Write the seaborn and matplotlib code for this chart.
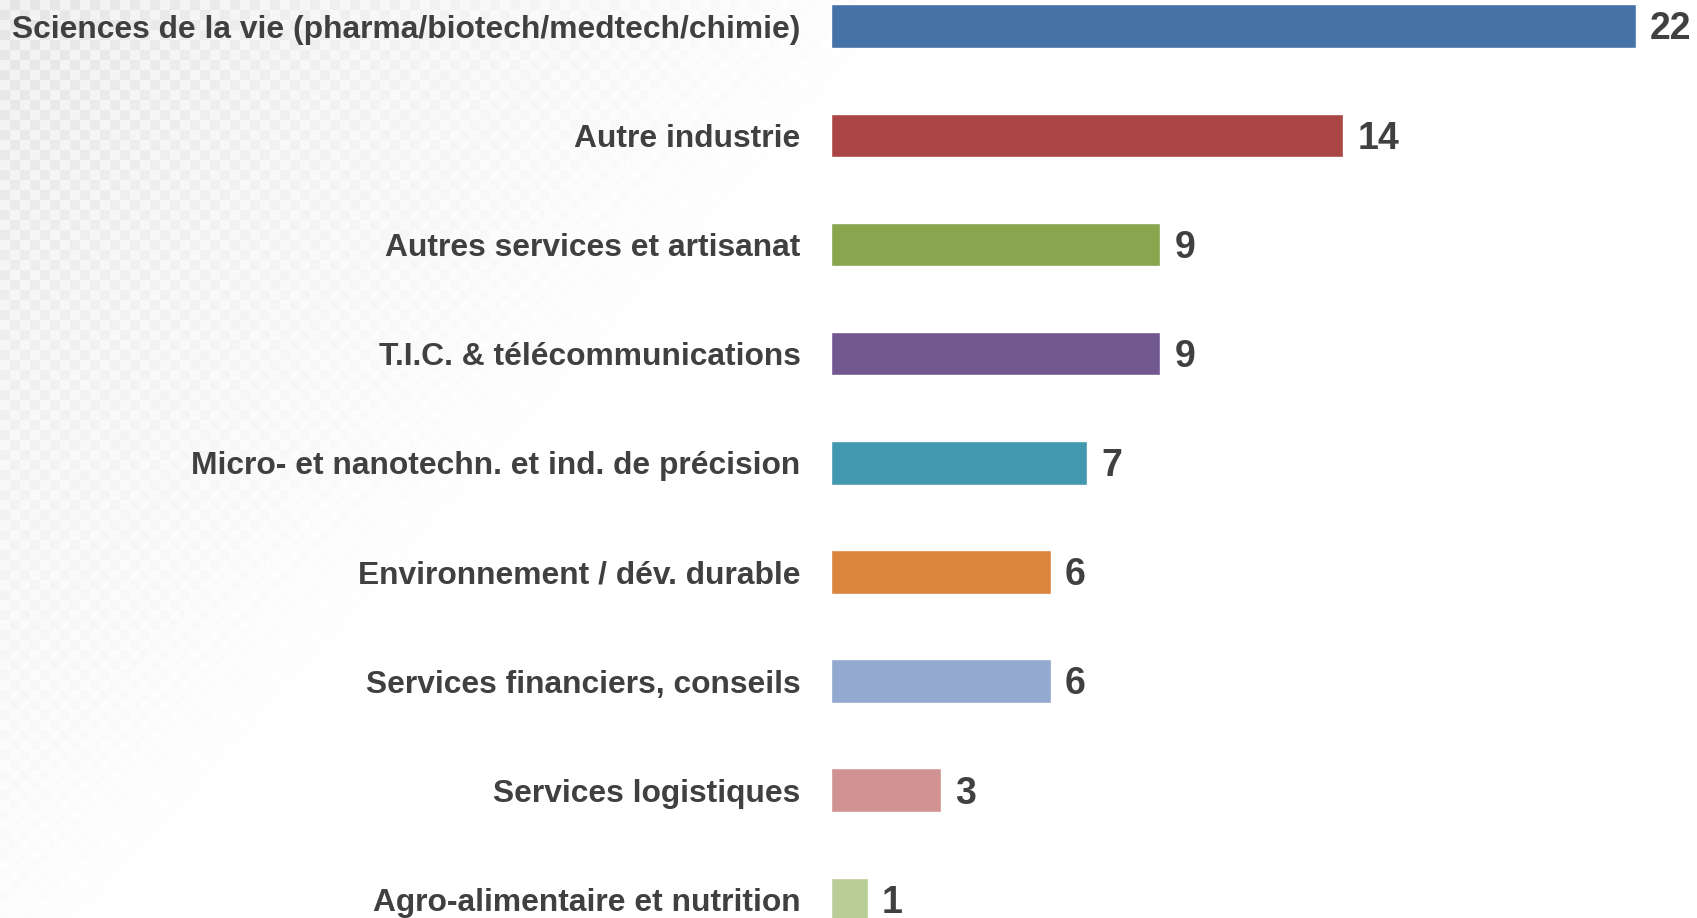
import numpy as np
import pandas as pd
import matplotlib
matplotlib.use("Agg")
import matplotlib.pyplot as plt
import seaborn as sns

categories = [
    "Sciences de la vie (pharma/biotech/medtech/chimie)",
    "Autre industrie",
    "Autres services et artisanat",
    "T.I.C. & télécommunications",
    "Micro- et nanotechn. et ind. de précision",
    "Environnement / dév. durable",
    "Services financiers, conseils",
    "Services logistiques",
    "Agro-alimentaire et nutrition",
]
values = [22, 14, 9, 9, 7, 6, 6, 3, 1]
colors = ["#4572A7", "#AA4643", "#89A54E", "#71588F", "#4198AF",
          "#DB843D", "#93A9CF", "#D19392", "#B9CD96"]

sns.set_theme(style="white")
plt.rcParams['font.family'] = ['Liberation Sans', 'DejaVu Sans']

W, H = 1697, 918
fig = plt.figure(figsize=(W / 100, H / 100), dpi=100)
fig.patch.set_facecolor("white")

# decorative checkered background fading toward the right
bg = fig.add_axes([0, 0, 1, 1], zorder=0)
yy, xx = np.mgrid[0:H, 0:W]
cell = 10
checker = ((xx // cell + yy // cell) % 2).astype(float)
fade = np.clip(1.0 - (xx + 0.9 * yy) / 950.0, 0, 1) ** 1.1
shade = 1.0 - (0.05 + 0.05 * checker) * fade
img = np.dstack([shade, shade, shade])
bg.imshow(img, aspect="auto", extent=[0, W, H, 0], interpolation="nearest")
bg.set_axis_off()

left = 831 / W
ax = fig.add_axes([left, 0, 1 - left, 1], zorder=1)
ax.patch.set_alpha(0)

df = pd.DataFrame({"cat": categories, "val": values})
sns.barplot(data=df, y="cat", x="val", hue="cat", palette=colors,
            legend=False, orient="h", width=0.4, saturation=1, ax=ax)

unit_px = 36.6
ax.set_xlim(0, (W - 831) / unit_px)
ax.set_ylim(8.17, -0.24)

for i, v in enumerate(values):
    ax.text(v + 14 / unit_px, i + 0.03, f"{v}", va="center", ha="left",
            fontsize=27, fontweight="bold", color="#404040")

ax.set_xlabel("")
ax.set_ylabel("")
ax.set_xticks([])
ax.tick_params(axis="y", length=0, pad=22)
for lbl in ax.get_yticklabels():
    lbl.set_fontsize(22.9)
    lbl.set_fontweight("bold")
    lbl.set_color("#404040")
for s in ax.spines.values():
    s.set_visible(False)

fig.savefig("out.png", dpi=100)
